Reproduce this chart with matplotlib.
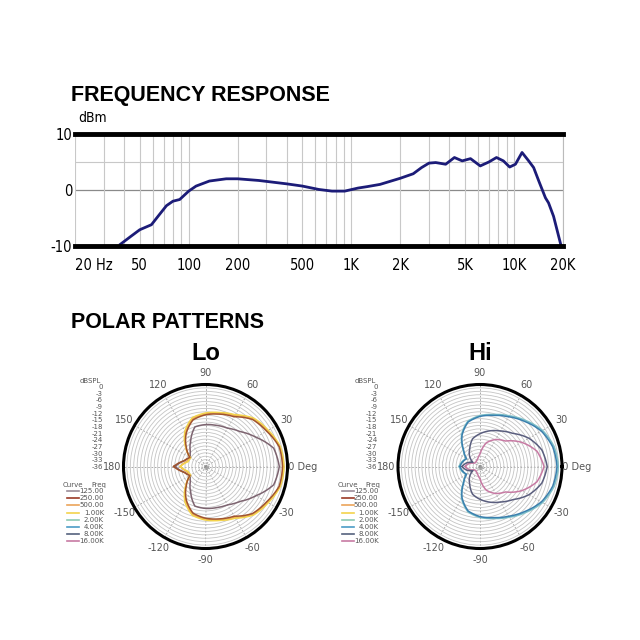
import numpy as np
import matplotlib
matplotlib.use('Agg')
import matplotlib.pyplot as plt
from matplotlib.ticker import LogLocator, NullFormatter

# frequency response (Hz, dB)
freq = [38, 44, 50, 59, 66, 73, 80, 88, 100, 111, 134, 170, 200, 270, 400, 500, 630, 760,
        910, 1100, 1250, 1500, 2000, 2400, 2700, 3000, 3300, 3800, 4300, 4800, 5400, 6200,
        7000, 7800, 8600, 9400, 10200, 11200, 12300, 13200, 14200, 15600, 16300, 17500, 19400]
resp = [-9.7, -8.3, -7.1, -6.2, -4.4, -2.8, -2.0, -1.7, -0.2, 0.7, 1.6, 2.0, 2.0, 1.7, 1.1,
        0.7, 0.1, -0.2, -0.2, 0.35, 0.6, 1.0, 2.1, 2.9, 4.0, 4.8, 4.9, 4.6, 5.8, 5.2, 5.6,
        4.3, 5.0, 5.8, 5.2, 4.1, 4.6, 6.7, 5.2, 4.0, 1.6, -1.4, -2.3, -4.7, -9.8]
freq_ticks = [20, 50, 100, 200, 500, 1000, 2000, 5000, 10000, 20000]
freq_labels = ['20 Hz', '50', '100', '200', '500', '1K', '2K', '5K', '10K', '20K']

# polar patterns: dB at 0..180 deg (15 deg steps), symmetric
pol_angles = [0, 15, 30, 45, 60, 75, 90, 105, 120, 135, 150, 165, 180]
lo_125 = [-3.6, -5.0, -10.4, -14.4, -16.6, -17.3, -17.6, -18.0, -23.0, -26.6, -28.4, -26.3, -22.7]
lo_250 = [-2.2, -2.5, -5.0, -6.8, -10.8, -12.2, -13.3, -14.8, -19.1, -24.1, -28.1, -26.3, -22.0]
lo_500 = [-1.8, -2.2, -4.6, -6.3, -10.2, -11.8, -12.9, -14.2, -18.5, -23.8, -28.3, -27.5, -24.8]
lo_1k = [-1.5, -2.0, -4.2, -6.0, -9.8, -11.5, -12.5, -13.8, -18.0, -23.5, -28.5, -28.0, -25.0]
hi_2k = [-1.6, -2.3, -4.3, -7.5, -10.3, -12.4, -13.6, -15.4, -19.8, -25.6, -29.0, -27.8, -26.8]
hi_4k = [-2.2, -2.9, -4.9, -8.1, -10.8, -12.8, -14.0, -15.8, -20.2, -25.9, -29.2, -28.1, -27.2]
hi_8k = [-6.5, -7.9, -11.2, -15.5, -18.0, -19.8, -21.6, -23.4, -27.0, -29.5, -32.4, -29.9, -28.1]
hi_16k = [-7.9, -10.1, -14.8, -20.2, -22.3, -25.2, -30.6, -32.4, -33.1, -33.5, -33.1, -31.0, -29.5]

legend_freqs = ['125.00', '250.00', '500.00', '1.00K', '2.00K', '4.00K', '8.00K', '16.00K']
legend_colors = ['#9a8c98', '#9b3a26', '#eba45a', '#f3d34c', '#8cc9b4', '#4b9cc6', '#55627e', '#c77aa3']
db_labels = ['0', '-3', '-6', '-9', '-12', '-15', '-18', '-21', '-24', '-27', '-30', '-33', '-36']

narrow = dict(family='DejaVu Sans', stretch='condensed')
head = ['Liberation Sans', 'DejaVu Sans']

fig = plt.figure(figsize=(6.4, 6.4), dpi=100)
W = 640.0


def fx(x):
    return x / W


def fy(y):
    return 1 - y / W


# ---- frequency response
ax = fig.add_axes([fx(75), fy(246), fx(488), 112 / W])
ax.set_xscale('log')
ax.plot(freq, resp, color='#1c1c78', lw=2)
ax.set_xlim(20, 20000)
ax.set_ylim(-10, 10)
ax.set_xticks(freq_ticks)
ax.set_xticklabels(freq_labels, fontsize=10.5, **narrow)
ax.xaxis.set_minor_locator(LogLocator(subs=range(1, 10)))
ax.xaxis.set_minor_formatter(NullFormatter())
ax.tick_params(axis='both', which='both', length=0)
ax.tick_params(axis='x', pad=9)
ax.set_yticks([-10, 0, 10])
ax.set_yticklabels(['-10', '0', '10'], fontsize=10.5, **narrow)
ax.tick_params(axis='y', pad=2)
ax.grid(True, axis='x', which='both', color='#c8c8c8', lw=0.8)
ax.axhline(0, color='#8a8a8a', lw=0.9, zorder=1)
ax.axhline(5, color='#c8c8c8', lw=0.8, zorder=1)
for s in ['top', 'bottom']:
    ax.spines[s].set_linewidth(3.5)
ax.spines['left'].set_visible(False)
ax.spines['right'].set_color('#bbbbbb')
ax.spines['right'].set_linewidth(0.8)
lbl = ax.get_xticklabels()
lbl[0].set_horizontalalignment('left')

fig.text(fx(78), fy(118), 'dBm', fontsize=10, va='center', **narrow)
fig.text(fx(71), fy(95), 'FREQUENCY RESPONSE', fontsize=15.5, weight='bold',
         family=head, va='center')
fig.text(fx(71), fy(322), 'POLAR PATTERNS', fontsize=15.5, weight='bold',
         family=head, va='center')


# ---- polar patterns
def mirror(vals):
    th = [-a for a in pol_angles[::-1]] + pol_angles[1:]
    r = vals[::-1] + vals[1:]
    return np.radians(th), r


def polar_panel(cx, title, curves):
    R = 82
    pax = fig.add_axes([fx(cx - R), fy(466.5 + R), 2 * R / W, 2 * R / W], projection='polar')
    pax.set_ylim(-36, 0)
    pax.set_rgrids(np.arange(-34.5, 0, 1.5), labels=[])
    pax.yaxis.grid(True, color='#c4c4c4', lw=0.6, ls='-')
    tang = [0, 30, 60, 90, 120, 150, 180, 210, 240, 270, 300, 330]
    tlab = ['  0 Deg', '30', '60', '90', '120', '150', '180', '-150', '-120', '-90', '-60', '-30']
    pax.set_thetagrids(tang, tlab, fontsize=7, color='#555555')
    pax.xaxis.grid(True, color='#9a9a9a', lw=0.6, ls=(0, (2, 2)))
    pax.tick_params(axis='x', pad=-2)
    pax.spines['polar'].set_linewidth(2.2)
    for vals, col in curves:
        th, r = mirror(vals)
        ln = pax.plot(th, r, color=col, lw=1.1)[0]
        ln.get_path()._interpolation_steps = 30
    pax.plot([0], [-36], 'o', ms=2.5, mfc='none', mec='#888888', mew=0.6)
    fig.text(fx(cx), fy(353), title, fontsize=17, weight='bold',
             family=head, ha='center', va='center')

    # dB scale and curve legend to the left
    off = cx - 205.5
    fig.text(fx(80 + off), fy(381), 'dBSPL', fontsize=5, color='#555555', va='center')
    for i, t in enumerate(db_labels):
        fig.text(fx(103 + off), fy(387 + i * 6.67), t, fontsize=5, color='#555555',
                 ha='right', va='center')
    fig.text(fx(63 + off), fy(485), 'Curve', fontsize=5, color='#555555', va='center')
    fig.text(fx(91 + off), fy(485), 'Freq', fontsize=5, color='#555555', va='center')
    for i, (t, c) in enumerate(zip(legend_freqs, legend_colors)):
        yy = fy(491 + i * 7.2)
        fig.add_artist(plt.Line2D([fx(67 + off), fx(79 + off)], [yy, yy], color=c, lw=1.2))
        fig.text(fx(104 + off), yy, t, fontsize=5, color='#555555', ha='right', va='center')


polar_panel(205.5, 'Lo', [(lo_125, '#7d6470'), (lo_500, legend_colors[2]),
                          (lo_1k, legend_colors[3]), (lo_250, '#a0542e')])
polar_panel(480, 'Hi', [(hi_16k, legend_colors[7]), (hi_8k, '#5a5e7e'),
                        (hi_2k, '#7cc0c8'), (hi_4k, '#3a7fae')])

fig.savefig('out.png', dpi=100, facecolor='white')
